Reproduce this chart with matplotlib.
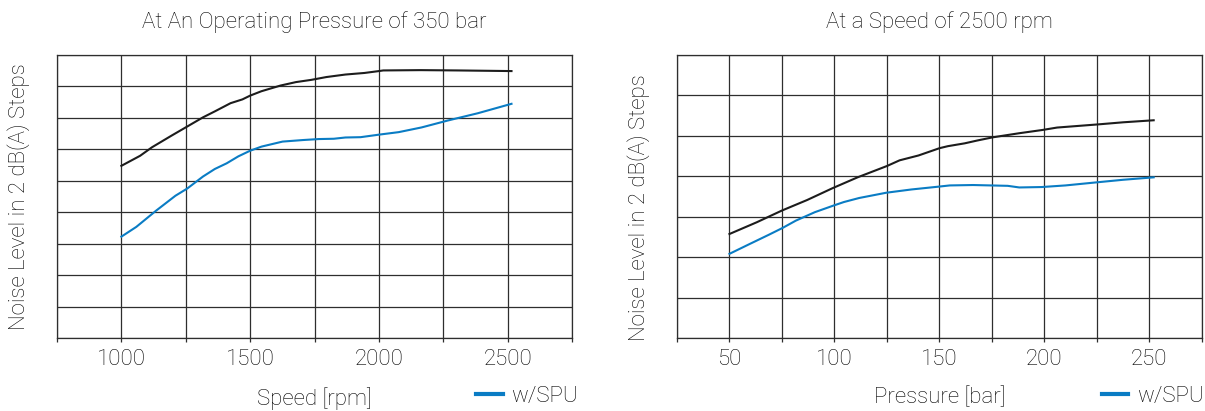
import matplotlib
matplotlib.use("Agg")
import matplotlib.pyplot as plt
from matplotlib.lines import Line2D

# noise vs speed at 350 bar
speed_std = [1000, 1073, 1119, 1195, 1256, 1317, 1363, 1424, 1470, 1500, 1544, 1618,
             1678, 1737, 1796, 1870, 1944, 2000, 2017, 2162, 2307, 2515]
noise_speed_std = [5.47, 5.79, 6.06, 6.43, 6.72, 7.01, 7.20, 7.46, 7.58, 7.70, 7.84, 8.02,
                   8.13, 8.20, 8.29, 8.37, 8.42, 8.48, 8.50, 8.51, 8.50, 8.48]
speed_spu = [1000, 1058, 1134, 1210, 1256, 1317, 1363, 1409, 1454, 1500, 1544, 1626,
             1707, 1766, 1825, 1870, 1929, 2000, 2077, 2166, 2268, 2384, 2515]
noise_speed_spu = [3.22, 3.53, 4.04, 4.52, 4.75, 5.13, 5.37, 5.55, 5.77, 5.95, 6.08, 6.24,
                   6.29, 6.32, 6.33, 6.37, 6.38, 6.46, 6.54, 6.69, 6.91, 7.14, 7.44]

# noise vs pressure at 2500 rpm
pres_std = [50, 63, 75, 87, 99, 111, 125, 131, 140, 150, 154, 162, 168, 175.5,
            188, 199, 206, 226, 237.5, 252]
noise_pres_std = [2.57, 2.86, 3.15, 3.41, 3.70, 3.97, 4.25, 4.39, 4.51, 4.69, 4.74, 4.81,
                  4.88, 4.96, 5.06, 5.14, 5.20, 5.28, 5.33, 5.38]
pres_spu = [50, 59.5, 68.7, 75.3, 81.6, 90.7, 99.4, 104.5, 111.8, 124.7, 136.6, 149.6,
            154.9, 166, 182.5, 188, 198.6, 210, 225.6, 237.5, 252]
noise_pres_spu = [2.08, 2.32, 2.55, 2.72, 2.90, 3.11, 3.27, 3.36, 3.46, 3.59, 3.67, 3.74,
                  3.77, 3.78, 3.76, 3.72, 3.73, 3.77, 3.85, 3.91, 3.97]

speed_ticks = [1000, 1500, 2000, 2500]
pres_ticks = [50, 100, 150, 200, 250]

GRID = "#2e2e2e"
TEXT = "#000000"
BLUE = "#0a7cc4"
BLACK = "#1c1c1c"
FS = 16
W = "light"

plt.rcParams["font.family"] = ["Roboto", "Liberation Sans", "DejaVu Sans"]
plt.rcParams["font.weight"] = W

fig = plt.figure(figsize=(12.05, 4.11), dpi=100)
ax1 = fig.add_axes([0.0473, 0.1776, 0.4274, 0.6893])
ax2 = fig.add_axes([0.5618, 0.1776, 0.4357, 0.6893])


def setup(ax, xmin, xmax, step, nrows, labels, title, xlabel, ylabel_x, ylabel_y, leg_x):
    ax.set_xlim(xmin, xmax)
    ax.set_ylim(0, nrows)
    xs = list(range(xmin, xmax + 1, step))
    ax.set_xticks(xs)
    ax.set_xticklabels([str(v) if v in labels else "" for v in xs],
                       fontsize=FS, color=TEXT, fontweight=W)
    ax.set_yticks(range(nrows + 1))
    ax.set_yticklabels([])
    ax.tick_params(axis="x", direction="out", length=3, width=0.9,
                   color=GRID, pad=5)
    ax.tick_params(axis="y", length=0)
    ax.grid(True, color=GRID, linewidth=0.9)
    ax.set_axisbelow(True)
    for s in ax.spines.values():
        s.set_color(GRID)
        s.set_linewidth(0.9)
    ax.set_title(title, fontsize=FS, color=TEXT, fontweight=W, pad=19)
    ax.set_xlabel(xlabel, fontsize=FS, color=TEXT, fontweight=W, labelpad=12)
    ax.set_ylabel("Noise Level in 2 dB(A) Steps", fontsize=FS, color=TEXT, fontweight=W)
    ax.yaxis.set_label_coords(ylabel_x, ylabel_y)
    h = Line2D([], [], color=BLUE, linewidth=3)
    ax.legend([h], ["w/SPU"], loc="center right", bbox_to_anchor=(leg_x, -0.205),
              frameon=False, handlelength=1.2, handletextpad=0.4,
              borderpad=0, borderaxespad=0, labelcolor=TEXT,
              prop={"size": FS, "weight": W})


ax1.plot(speed_std, noise_speed_std, color=BLACK, linewidth=1.5)
ax1.plot(speed_spu, noise_speed_spu, color=BLUE, linewidth=1.5)
setup(ax1, 750, 2750, 250, 9, speed_ticks,
      "At An Operating Pressure of 350 bar", "Speed [rpm]", -0.052, 0.5, 1.012)

ax2.plot(pres_std, noise_pres_std, color=BLACK, linewidth=1.5)
ax2.plot(pres_spu, noise_pres_spu, color=BLUE, linewidth=1.5)
setup(ax2, 25, 275, 25, 7, pres_ticks,
      "At a Speed of 2500 rpm", "Pressure [bar]", -0.051, 0.46, 1.004)

fig.savefig("out.png", dpi=100)
